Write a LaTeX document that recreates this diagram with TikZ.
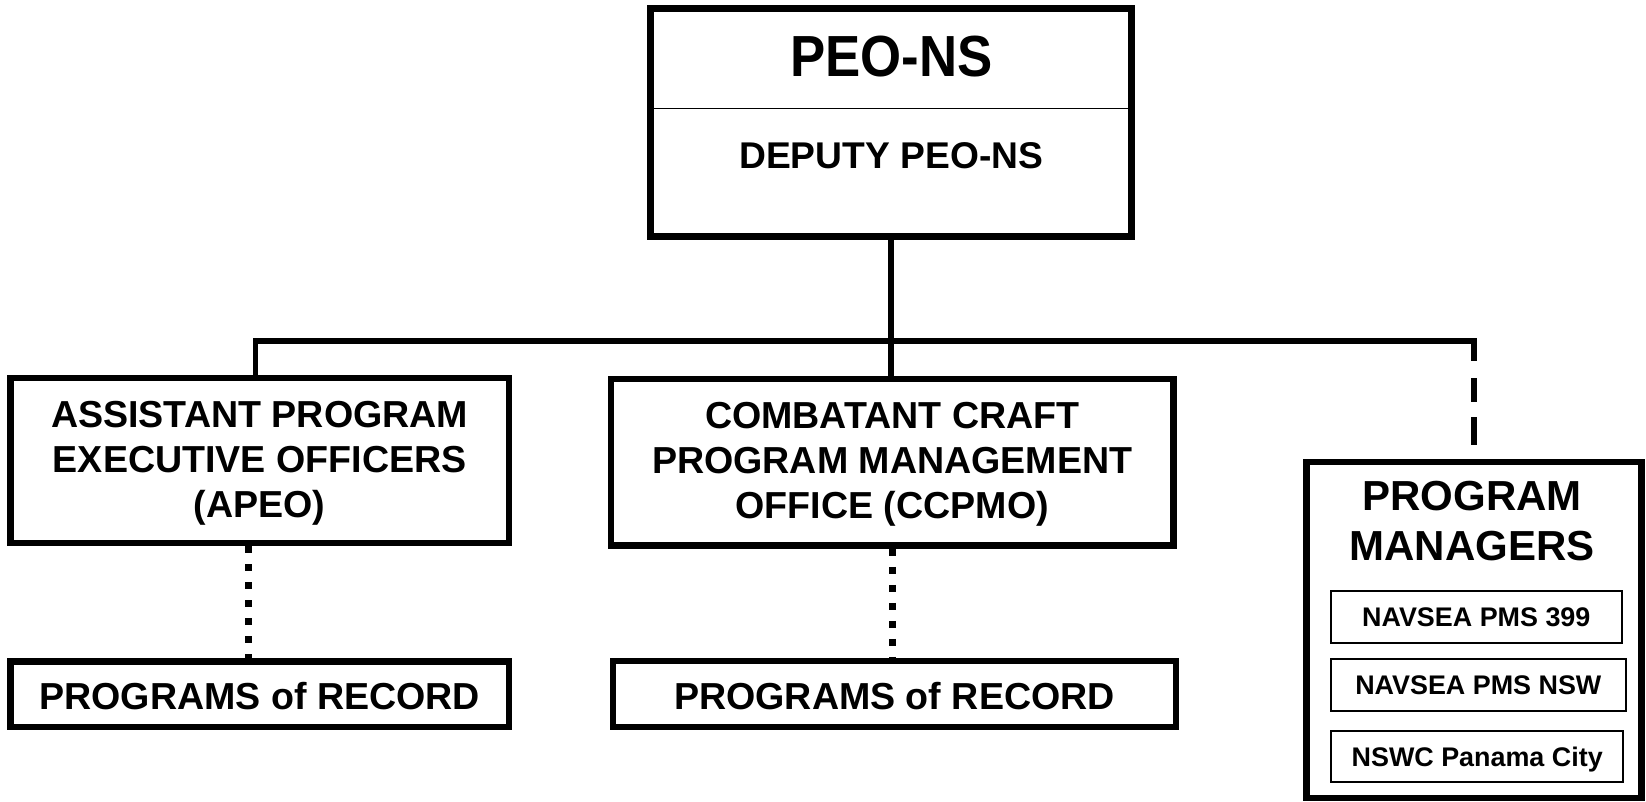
\documentclass[tikz,border=0pt]{standalone}
\usepackage{fontspec}
\setmainfont{Liberation Sans}
\usepackage{graphicx}
\begin{document}
\begin{tikzpicture}[x=1pt,y=-1pt,
  box/.style={draw, rectangle, line width=6.5pt, inner sep=0pt, align=center,
    font=\fontsize{37.6}{45}\selectfont\bfseries},
  porbox/.style={box, text height=30.6pt, text depth=0pt},
  subbox/.style={draw, rectangle, line width=2pt, inner sep=0pt,
    font=\fontsize{26.9}{30}\selectfont\bfseries, text height=19.4pt, text depth=0pt},
  conn/.style={line width=5.5pt},
  dots/.style={line width=7pt, dash pattern=on 7pt off 11pt},
  dashline/.style={line width=6pt, dash pattern=on 20pt off 17pt on 24pt off 15pt on 28pt off 20pt}
]
\useasboundingbox (0,0) rectangle (1646,802);

% top box
\node[box, minimum width=480.8pt, minimum height=228pt] (peo) at (891.1,122.5) {};
\coordinate (divy) at (0,108.3);
\draw[line width=1.5pt] (peo.west |- divy) -- (peo.east |- divy);
\node[anchor=base, inner sep=0pt, font=\fontsize{58}{60}\selectfont\bfseries] (peotitle) at (891.4,76.7) {\scalebox{0.91}[1]{PEO-NS}};
\node[anchor=base, inner sep=0pt, font=\fontsize{37.2}{45}\selectfont\bfseries] (deputy) at (891.2,168.3) {DEPUTY PEO-NS};

% second row
\node[box, minimum width=498.7pt, minimum height=165pt] (apeo) at (259.7,460.5) {\rule{0pt}{31pt}ASSISTANT PROGRAM\\EXECUTIVE OFFICERS\\(APEO)};
\node[box, minimum width=562.7pt, minimum height=166.7pt] (ccpmo) at (892.3,462.3) {\rule{0pt}{31pt}COMBATANT CRAFT\\PROGRAM MANAGEMENT\\OFFICE (CCPMO)};

% programs of record
\node[porbox, minimum width=498.5pt, minimum height=65.5pt] (por1) at (259.8,694.3) {PROGRAMS of RECORD};
\node[porbox, minimum width=563pt, minimum height=66pt] (por2) at (894.5,694) {PROGRAMS of RECORD};

% program managers
\node[box, minimum width=335.4pt, minimum height=336.3pt] (pm) at (1474,629.9) {};
\node[align=center, inner sep=0pt, font=\fontsize{42}{50}\selectfont\bfseries] (pmtitle) at (1472,521) {PROGRAM\\MANAGERS};
\node[subbox, minimum width=290.7pt, minimum height=52pt] (pms399) at (1476.3,617) {NAVSEA PMS 399};
\node[subbox, minimum width=294.7pt, minimum height=52pt] (pmsnsw) at (1478.3,685) {NAVSEA PMS NSW};
\node[subbox, minimum width=292.3pt, minimum height=51.3pt] (nswc) at (1477.2,756.7) {NSWC Panama City};

% connectors
\coordinate (hbar) at (0,341);
\draw[conn, line cap=rect] ([xshift=-4.2pt]apeo.north) |- (pm.north |- hbar);
\draw[conn] (peo.south) -- (peo.south |- ccpmo.north);
\draw[dashline] (pm.north |- hbar) -- ([yshift=13pt]pm.north);
\draw[dots] ([xshift=-11.2pt]apeo.south) -- ([xshift=-11.2pt]apeo.south |- por1.north);
\draw[dots] (ccpmo.south) -- (ccpmo.south |- por2.north);
\end{tikzpicture}
\end{document}
